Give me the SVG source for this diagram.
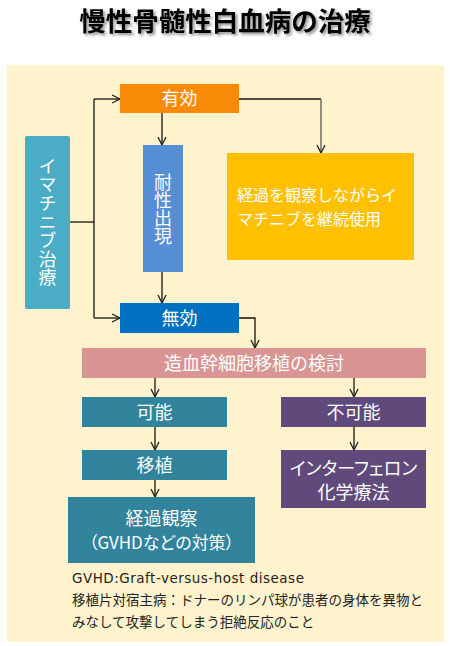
<svg xmlns="http://www.w3.org/2000/svg" width="450" height="646" viewBox="0 0 450 646">
<defs>
<style>
text{font-family:"Noto Sans CJK JP","Noto Sans",sans-serif;}
.w{fill:#fff;font-size:18px;text-anchor:middle;}
.note{fill:#222;font-size:13.5px;}
.latin{font-family:"DejaVu Sans","Noto Sans CJK JP",sans-serif;letter-spacing:0.5px;}
.ln{fill:none;stroke:#111;stroke-width:1.3;}
.palt{font-feature-settings:"palt";}
.vt{writing-mode:vertical-rl;text-orientation:upright;}
</style>
<marker id="ah" viewBox="0 0 10 10" refX="9" refY="5" markerWidth="10" markerHeight="10" markerUnits="userSpaceOnUse" orient="auto">
<polyline points="1,1 9,5 1,9" fill="none" stroke="#222" stroke-width="1.3"/>
</marker>
<filter id="sh" x="-10%" y="-30%" width="120%" height="160%">
<feDropShadow dx="2" dy="2" stdDeviation="1.5" flood-color="#000" flood-opacity="0.45"/>
</filter>
</defs>
<rect x="0" y="0" width="450" height="646" fill="#fff"/>
<text x="225" y="31" text-anchor="middle" font-size="26.5" font-weight="700" fill="#000" filter="url(#sh)">慢性骨髄性白血病の治療</text>
<rect id="bg" x="7" y="65" width="437" height="577" fill="#FFF3CD"/>

<g id="connectors">
<polyline class="ln" points="70,222 94,222"/>
<polyline class="ln" points="94,99 94,318"/>
<line class="ln" x1="94" y1="99" x2="120" y2="99" marker-end="url(#ah)"/>
<line class="ln" x1="94" y1="318" x2="120" y2="318" marker-end="url(#ah)"/>
<line class="ln" x1="162" y1="113" x2="162" y2="145" marker-end="url(#ah)"/>
<line class="ln" x1="162" y1="272" x2="162" y2="303" marker-end="url(#ah)"/>
<polyline class="ln" points="239,99 321,99"/>
<line x1="321" y1="99" x2="321" y2="153" fill="none" stroke="#7a7466" stroke-width="1.6" marker-end="url(#ah)"/>
<polyline class="ln" points="239,318 255,318 255,348" marker-end="url(#ah)"/>
<line class="ln" x1="155" y1="378" x2="155" y2="397" marker-end="url(#ah)"/>
<line class="ln" x1="354" y1="378" x2="354" y2="397" marker-end="url(#ah)"/>
<line class="ln" x1="155" y1="427" x2="155" y2="450" marker-end="url(#ah)"/>
<line class="ln" x1="354" y1="427" x2="354" y2="450" marker-end="url(#ah)"/>
<line class="ln" x1="155" y1="480" x2="155" y2="497" marker-end="url(#ah)"/>
</g>

<g id="imatinib">
<rect x="25" y="136" width="45" height="173" rx="2" fill="#4BACC6"/>
<text class="w vt" x="47.5" y="222" letter-spacing="0.6">イマチニブ治療</text>
</g>

<g id="yuko">
<rect x="120" y="84" width="119" height="29" fill="#F98A08"/>
<text class="w" x="179.5" y="105">有効</text>
</g>

<g id="taisei">
<rect x="143" y="145" width="40" height="127" fill="#558ED5"/>
<text class="w vt" x="163" y="209">耐性出現</text>
</g>

<g id="keizoku">
<rect x="227" y="153" width="187" height="107" fill="#FFC000"/>
<text fill="#fff" font-size="16"><tspan x="237" y="201">経過を観察しながらイ</tspan><tspan x="237" y="225">マチニブを継続使用</tspan></text>
</g>

<g id="muko">
<rect x="120" y="303" width="119" height="30" fill="#0070C0"/>
<text class="w" x="179.5" y="324.5">無効</text>
</g>

<g id="zouketsu">
<rect x="82" y="348" width="344" height="30" fill="#D99594"/>
<text class="w" x="254" y="369.5" font-size="18.5">造血幹細胞移植の検討</text>
</g>

<g id="kano">
<rect x="82" y="397" width="145" height="30" fill="#31849B"/>
<text class="w" x="154.5" y="418.5">可能</text>
</g>

<g id="fukano">
<rect x="281" y="397" width="145" height="30" fill="#604A7B"/>
<text class="w" x="353.5" y="418.5">不可能</text>
</g>

<g id="ishoku">
<rect x="82" y="450" width="145" height="30" fill="#31849B"/>
<text class="w" x="154.5" y="471.5">移植</text>
</g>

<g id="interferon">
<rect x="281" y="450" width="145" height="58" fill="#604A7B"/>
<text class="w palt"><tspan x="353.5" y="474.5">インターフェロン</tspan><tspan x="353.5" y="498.5">化学療法</tspan></text>
</g>

<g id="kansatsu">
<rect x="68" y="497" width="187" height="66" fill="#31849B"/>
<text class="w palt"><tspan x="161.5" y="524.5">経過観察</tspan><tspan x="161.5" y="548.5" font-size="17">（GVHDなどの対策）</tspan></text>
</g>

<g id="notes">
<text class="note latin" x="72" y="583">GVHD:Graft-versus-host disease</text>
<text class="note" x="72" y="604.5">移植片対宿主病：ドナーのリンパ球が患者の身体を異物と</text>
<text class="note" x="72" y="626.5">みなして攻撃してしまう拒絶反応のこと</text>
</g>
</svg>
